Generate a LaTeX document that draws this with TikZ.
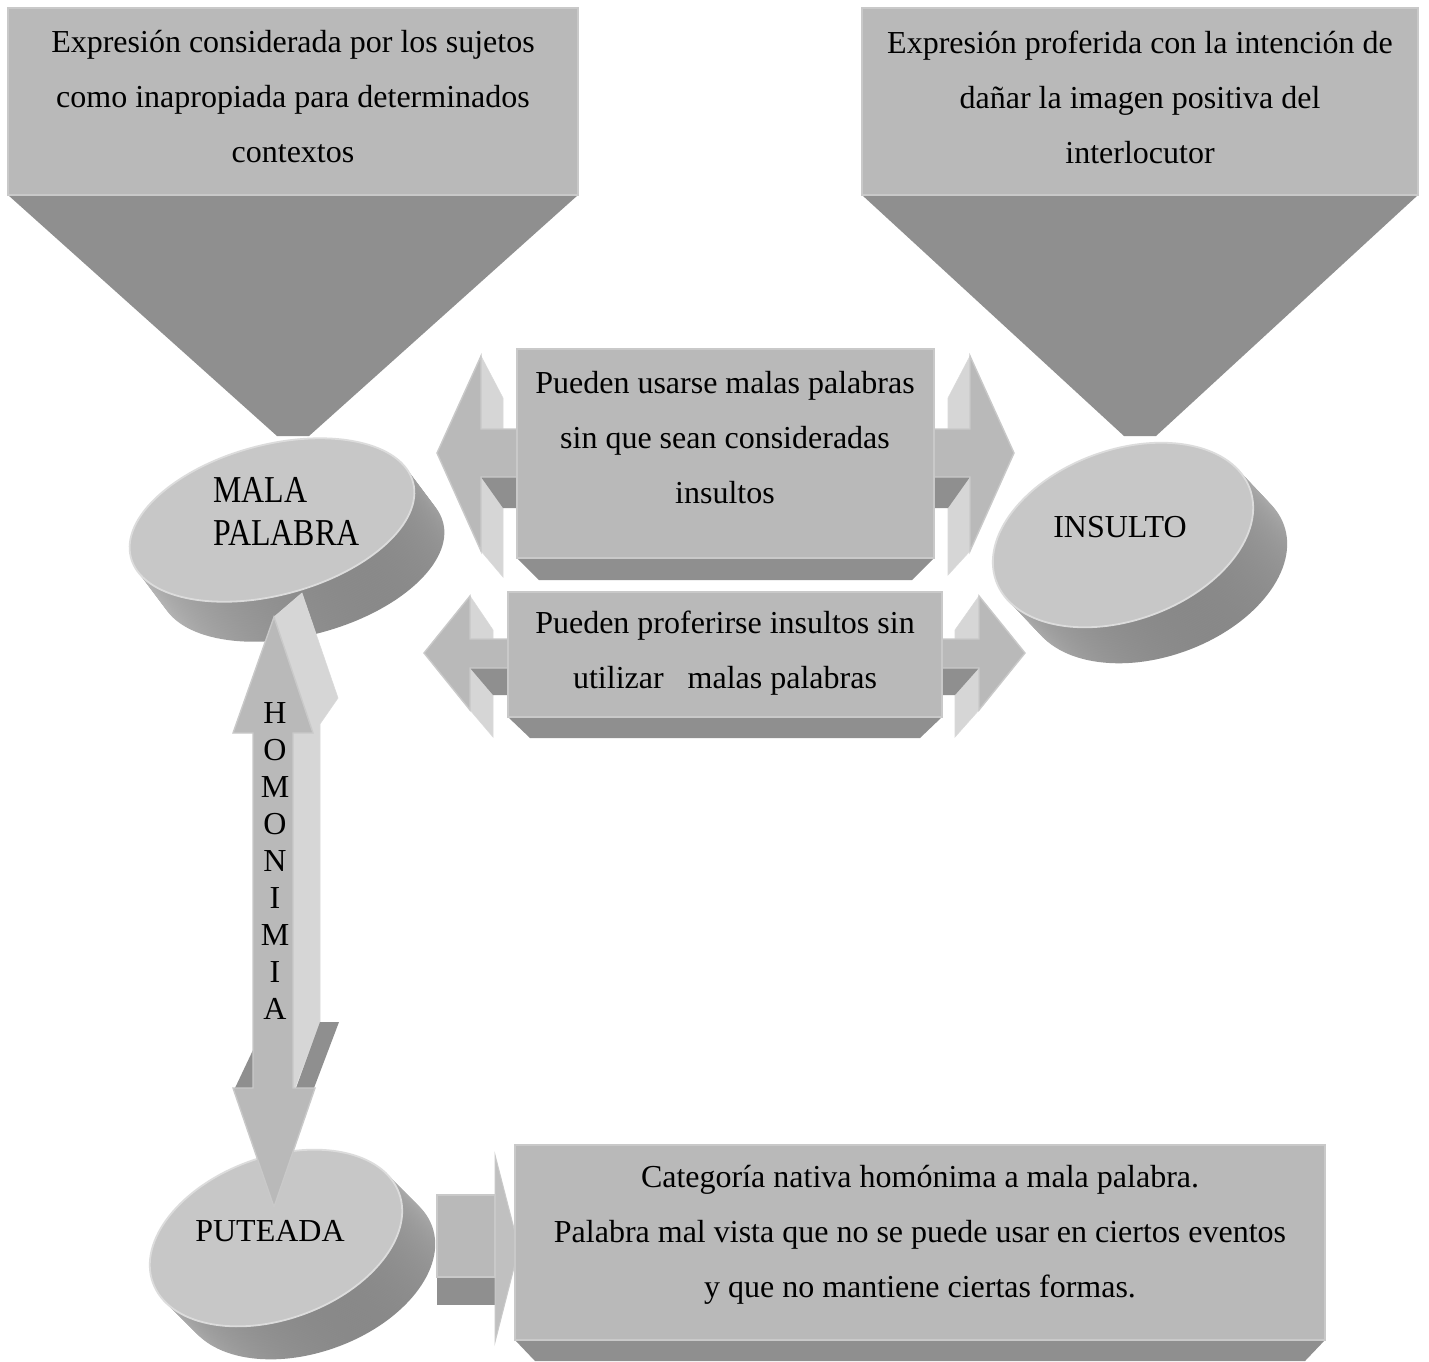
\documentclass[tikz,border=0pt]{standalone}
\usepackage{fontspec}
\setmainfont{Liberation Serif}
\definecolor{facegray}{HTML}{B9B9B9}
\definecolor{rimgray}{HTML}{C9C9C9}
\definecolor{shadegray}{HTML}{8F8F8F}
\definecolor{sidegray}{HTML}{D6D6D6}
\definecolor{topgray}{HTML}{C7C7C7}
\definecolor{toprim}{HTML}{DCDCDC}
\definecolor{headgray}{HTML}{C0C0C0}

% extruded disc: centre x, centre y, x radius, y radius, tilt, depth dx, depth dy
\newcommand{\drumbody}[7]{%
  \foreach \k in {24,23,...,1}{%
    \pgfmathsetmacro{\fx}{#1+#6*\k/24}%
    \pgfmathsetmacro{\fy}{#2+#7*\k/24}%
    \begin{scope}[shift={(\fx,\fy)}, rotate=#5]
      \shade[shading=axis, top color=white!88!black, bottom color=black!52, shading angle=30]
        (0,0) ellipse [x radius={#3*0.5pt}, y radius={#4*0.5pt}];
    \end{scope}
  }%
  \begin{scope}[shift={(#1,#2)}, rotate=#5]
    \filldraw[fill=topgray, draw=toprim, line width=0.9pt]
      (0,0) ellipse [x radius={#3*0.5pt}, y radius={#4*0.5pt}];
  \end{scope}%
}

\begin{document}
\begin{tikzpicture}[x=0.5pt, y=-0.5pt,
  facebox/.style={fill=facegray, draw=rimgray, line width=0.7pt},
  darkface/.style={fill=shadegray},
  lightface/.style={fill=sidegray, draw=sidegray!90!white, line width=0.3pt},
  txt/.style={align=center, inner sep=0pt, font=\fontsize{16}{27.5}\selectfont},
  bigtxt/.style={inner sep=0pt, font=\fontsize{16}{20}\selectfont}]

\useasboundingbox (0,0) rectangle (1429,1361);
\fill[white] (0,0) rectangle (1429,1361);

% ---- two funnels at the top
\fill[darkface] (8,195) -- (578,195) -- (309,436) -- (277,436) -- cycle;
\filldraw[facebox] (8,8) rectangle (578,195);
\fill[darkface] (862,195) -- (1418,195) -- (1156,436) -- (1124,436) -- cycle;
\filldraw[facebox] (862,8) rectangle (1418,195);

% ---- discs
\drumbody{272}{520}{146}{75}{15}{30}{40}
\drumbody{1123}{535}{135}{85}{20}{34}{36}
\drumbody{276}{1238}{131}{81}{20}{33}{33}

% ---- upper double arrow
\fill[lightface] (481,356) -- (503,398) -- (503,429) -- (481,429) -- cycle;
\fill[lightface] (481,477) -- (503,508) -- (503,577) -- (481,551) -- cycle;
\fill[darkface] (481,477) -- (517,477) -- (517,508) -- (503,508) -- cycle;
\filldraw[facebox] (437,453) -- (481,356) -- (481,429) -- (517,429) -- (517,477) -- (481,477) -- (481,551) -- cycle;
\fill[lightface] (970,356) -- (948,398) -- (948,429) -- (970,429) -- cycle;
\fill[lightface] (970,477) -- (948,508) -- (948,575) -- (970,551) -- cycle;
\fill[darkface] (934,477) -- (970,477) -- (948,508) -- (934,508) -- cycle;
\filldraw[facebox] (1014,453) -- (970,356) -- (970,429) -- (934,429) -- (934,477) -- (970,477) -- (970,551) -- cycle;
\fill[darkface] (517,558) -- (934,558) -- (912,580) -- (539,580) -- cycle;
\filldraw[facebox] (517,349) rectangle (934,558);

% ---- lower double arrow
\fill[lightface] (470,596) -- (493,630) -- (493,639) -- (470,639) -- cycle;
\fill[lightface] (470,668) -- (493,695) -- (493,737) -- (470,710) -- cycle;
\fill[darkface] (470,668) -- (508,668) -- (508,695) -- (493,695) -- cycle;
\filldraw[facebox] (424,653) -- (470,596) -- (470,639) -- (508,639) -- (508,668) -- (470,668) -- (470,710) -- cycle;
\fill[lightface] (979,596) -- (955,630) -- (955,639) -- (979,639) -- cycle;
\fill[lightface] (979,668) -- (955,695) -- (955,737) -- (979,710) -- cycle;
\fill[darkface] (942,668) -- (979,668) -- (955,695) -- (942,695) -- cycle;
\filldraw[facebox] (1025,653) -- (979,596) -- (979,639) -- (942,639) -- (942,668) -- (979,668) -- (979,710) -- cycle;
\fill[darkface] (508,717) -- (942,717) -- (920,738) -- (530,738) -- cycle;
\filldraw[facebox] (508,592) rectangle (942,717);

% ---- vertical double arrow
\fill[lightface] (274,617) -- (302,593) -- (338,698) -- (320,724) -- (320,1022)
  -- (295,1088) -- (293,1088) -- (293,733) -- (313,733) -- cycle;
\fill[darkface] (320,1022) -- (339,1022) -- (314,1088) -- (296,1088) -- cycle;
\fill[darkface] (253,1050) -- (235,1088) -- (253,1088) -- cycle;
\filldraw[facebox] (274,617) -- (313,733) -- (293,733) -- (293,1088) -- (315,1088)
  -- (274,1207) -- (233,1088) -- (253,1088) -- (253,733) -- (233,733) -- cycle;

% ---- arrow into the bottom box
\fill[darkface] (437,1277) rectangle (495,1305);
\filldraw[fill=headgray, draw=rimgray, line width=0.5pt] (495,1155) -- (519,1248) -- (495,1342) -- cycle;
\filldraw[facebox] (437,1195) rectangle (495,1277);
\fill[darkface] (515,1340) -- (1325,1340) -- (1305,1361) -- (535,1361) -- cycle;
\filldraw[facebox] (515,1145) rectangle (1325,1340);

% ---- texts
\node[txt] (malaDef) at (293,97) {Expresión considerada por los sujetos\\como inapropiada para determinados\\contextos};
\node[txt] (insDef) at (1140,97) {Expresión proferida con la intención de\\dañar la imagen positiva del\\interlocutor};
\node[txt] (sinIns) at (725,438) {Pueden usarse malas palabras\\sin que sean consideradas\\insultos};
\node[txt] (sinMal) at (725,653) {Pueden proferirse insultos sin\\utilizar\ \ \ malas palabras};
\node[txt] (putDef) at (920,1235) {Categoría nativa homónima a mala palabra.\\Palabra mal vista que no se puede usar en ciertos eventos\\y que no mantiene ciertas formas.};
\node[anchor=west, align=left, inner sep=0pt, font=\fontsize{19}{21.5}\selectfont] (mala) at (213,512)
  {\scalebox{0.84}[1]{MALA}\\\scalebox{0.84}[1]{PALABRA}};
\node[bigtxt] (insulto) at (1120,527) {INSULTO};
\node[bigtxt] (puteada) at (270,1231) {PUTEADA};
\node[align=center, inner sep=0pt, font=\fontsize{16}{18.55}\selectfont] (homonimia) at (275,861) {H\\O\\M\\O\\N\\I\\M\\I\\A};
\end{tikzpicture}
\end{document}
